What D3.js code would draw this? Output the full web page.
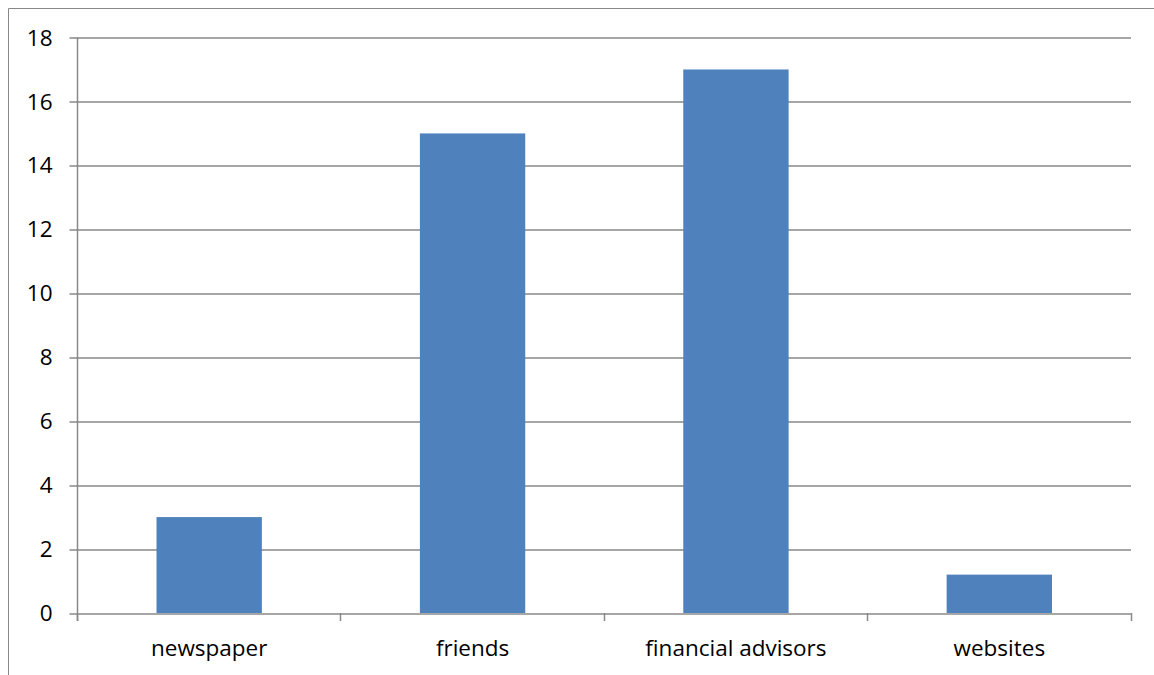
<!DOCTYPE html>
<html>
<head>
<meta charset="utf-8">
<script src="https://cdn.jsdelivr.net/npm/d3@7"></script>
<style>
  body { margin: 0; background: #fff; }
  text { font-family: "Open Sans", "Noto Sans", sans-serif; fill: #000; }
</style>
</head>
<body>
<svg id="chart"></svg>
<script>
// data
const categories = ["newspaper", "friends", "financial advisors", "websites"];
const values = [3, 15, 17, 1.2];
const yTicks = [0, 2, 4, 6, 8, 10, 12, 14, 16, 18];

const width = 1154;
const height = 675;

const svg = d3.select("#chart")
    .attr("width", width)
    .attr("height", height);

// outer chart frame (only left and top edges visible)
svg.append("path")
    .attr("d", `M8.5,${height} V8.5 H${width}`)
    .attr("fill", "none")
    .attr("stroke", "#888")
    .attr("stroke-width", 1);

const margin = { top: 37.5, right: 23, bottom: 62, left: 77.5 };
const plotW = 1131 - margin.left;
const plotH = 613 - margin.top;

const g = svg.append("g")
    .attr("transform", `translate(${margin.left},${margin.top})`);

const x = d3.scaleBand()
    .domain(categories)
    .range([0, plotW])
    .padding(0);

const y = d3.scaleLinear()
    .domain([0, 18])
    .range([plotH, 0]);

// horizontal gridlines with small left ticks
g.selectAll(".grid")
    .data(yTicks)
    .enter()
    .append("line")
    .attr("x1", -8)
    .attr("x2", plotW)
    .attr("y1", d => Math.round(y(d)) + 0.5)
    .attr("y2", d => Math.round(y(d)) + 0.5)
    .attr("stroke", "#898989")
    .attr("stroke-width", 1.5);

// y tick labels
g.selectAll(".ylab")
    .data(yTicks)
    .enter()
    .append("text")
    .attr("x", -25)
    .attr("y", d => y(d))
    .attr("dy", "0.36em")
    .attr("text-anchor", "end")
    .style("font-size", "22.5px")
    .text(d => d);

// bars
const barW = x.bandwidth() * 0.4;
g.selectAll(".bar")
    .data(values)
    .enter()
    .append("rect")
    .attr("x", (d, i) => x(categories[i]) + (x.bandwidth() - barW) / 2)
    .attr("y", d => y(d))
    .attr("width", barW)
    .attr("height", d => plotH - y(d))
    .attr("fill", "#4F81BD");

// y axis line
g.append("line")
    .attr("x1", 0).attr("x2", 0)
    .attr("y1", 0).attr("y2", plotH + 8)
    .attr("stroke", "#898989")
    .attr("stroke-width", 1.5);

// x axis with category boundary ticks
const bounds = categories.map(c => x(c)).concat([plotW]);
g.selectAll(".xtick")
    .data(bounds)
    .enter()
    .append("line")
    .attr("x1", d => Math.round(d))
    .attr("x2", d => Math.round(d))
    .attr("y1", plotH)
    .attr("y2", plotH + 8)
    .attr("stroke", "#898989")
    .attr("stroke-width", 1.5);

g.selectAll(".xlab")
    .data(categories)
    .enter()
    .append("text")
    .attr("x", d => x(d) + x.bandwidth() / 2)
    .attr("y", plotH + 35)
    .attr("dy", "0.36em")
    .attr("text-anchor", "middle")
    .style("font-size", "22.5px")
    .text(d => d);
</script>
</body>
</html>
